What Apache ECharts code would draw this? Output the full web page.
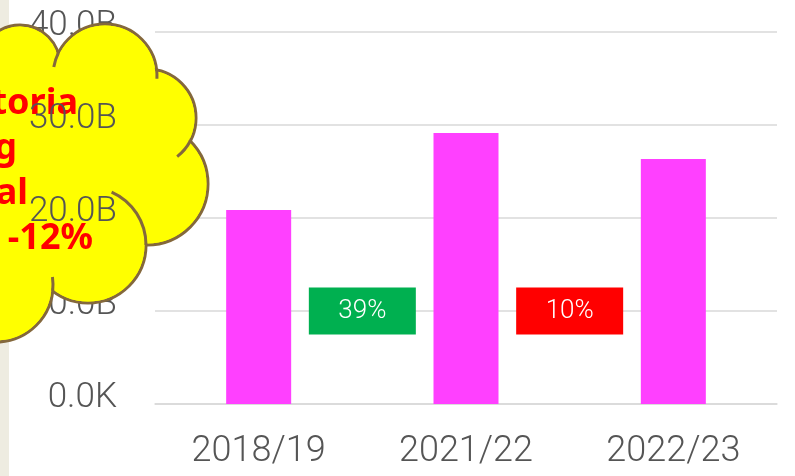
<!DOCTYPE html>
<html>
<head>
<meta charset="utf-8">
<script src="https://cdn.jsdelivr.net/npm/echarts@6/dist/echarts.min.js"></script>
<style>
  html, body { margin: 0; padding: 0; background: #fff; }
  #container { width: 795px; height: 476px; }
</style>
</head>
<body>
<div id="container"></div>
<script>
  // data
  var categories = ['2018/19', '2021/22', '2022/23'];
  var spendValues = [20.86, 29.14, 26.34];          // billions
  var yTickLabels = ['0.0K', '10.0B', '20.0B', '30.0B', '40.0B'];
  var changePct = [39, -10];                         // change between neighbouring years
  var changeLevel = 10;                              // where the change boxes sit (billions)
  var cloudLines = ['Victoria', 'Spending', 'Total', '-12%'];

  var dom = document.getElementById('container');
  var myChart = echarts.init(dom, null, { renderer: 'canvas' });

  var grey = '#555555';
  var lineCol = '#D9D9D9';
  var labelFont = 'Roboto, "Noto Sans", sans-serif';

  // cloud made of bumps (circles), outlined only on the outside
  var bumps = [
    { cx: 20, cy: 65, r: 40 },
    { cx: 105, cy: 76, r: 52 },
    { cx: 147, cy: 118, r: 49 },
    { cx: 147, cy: 184, r: 61 },
    { cx: 88, cy: 245, r: 58 },
    { cx: -4, cy: 285, r: 57 }
  ];
  // little inner strokes where one bump runs into the next (degrees)
  var stubs = [
    { b: 1, a0: 190, a1: 206 },
    { b: 1, a0: -7, a1: 3 },
    { b: 2, a0: 28, a1: 52 },
    { b: 4, a0: -66, a1: 0 },
    { b: 5, a0: -8, a1: 6 }
  ];
  var cloudFill = '#FFFF00';
  var cloudEdge = '#84683C';

  var gfx = [];
  gfx.push({ type: 'rect', z: 1, shape: { x: 0, y: 0, width: 9, height: 476 }, style: { fill: '#EEECE1' } });
  bumps.forEach(function (b) {
    gfx.push({ type: 'circle', z: 3, shape: { cx: b.cx, cy: b.cy, r: b.r }, style: { fill: cloudFill, stroke: cloudEdge, lineWidth: 3 } });
  });
  gfx.push({
    type: 'polygon', z: 4,
    shape: { points: bumps.map(function (b) { return [b.cx, b.cy]; }).concat([[-40, 285], [-40, 65]]) },
    style: { fill: cloudFill }
  });
  bumps.forEach(function (b) {
    gfx.push({ type: 'circle', z: 4, shape: { cx: b.cx, cy: b.cy, r: b.r - 1.5 }, style: { fill: cloudFill } });
  });
  stubs.forEach(function (s) {
    var b = bumps[s.b];
    gfx.push({
      type: 'arc', z: 5,
      shape: { cx: b.cx, cy: b.cy, r: b.r, startAngle: s.a0 * Math.PI / 180, endAngle: s.a1 * Math.PI / 180, clockwise: true },
      style: { fill: null, stroke: cloudEdge, lineWidth: 3 }
    });
  });
  var lineRight = [78, 17, 28, 93];
  cloudLines.forEach(function (t, i) {
    gfx.push({
      type: 'text', z: 6,
      style: {
        text: t, x: lineRight[i], y: 104 + i * 45,
        align: 'right', verticalAlign: 'middle',
        fill: '#FF0000', font: 'bold 36px "Noto Sans", sans-serif'
      }
    });
  });

  function yLabel(v) {
    return yTickLabels[Math.round(v / 10)];
  }

  var yLabelStyle = {
    color: grey, fontSize: 35, fontFamily: labelFont, fontWeight: 300, margin: 38,
    verticalAlign: 'bottom', lineHeight: 12
  };

  var option = {
    animation: false,
    backgroundColor: '#ffffff',
    grid: { left: 155, right: 18, top: 32, bottom: 72, containLabel: false, outerBoundsMode: 'none' },
    xAxis: [
      {
        type: 'category',
        data: categories,
        axisTick: { show: false },
        axisLine: { lineStyle: { color: lineCol, width: 1.5 } },
        axisLabel: { color: grey, fontSize: 36, fontFamily: labelFont, fontWeight: 300, margin: 30 }
      },
      { type: 'value', min: -0.5, max: 2.5, show: false }
    ],
    yAxis: [
      {
        type: 'value', min: 0, max: 40, interval: 10, z: 0,
        axisLine: { show: false },
        axisTick: { show: false },
        splitLine: { lineStyle: { color: lineCol, width: 1.5 } },
        axisLabel: Object.assign({ formatter: yLabel }, yLabelStyle)
      },
      {
        // same scale, drawn above the cloud for the labels that show through it
        type: 'value', min: 0, max: 40, interval: 10, position: 'left', z: 10,
        axisLine: { show: false },
        axisTick: { show: false },
        splitLine: { show: false },
        axisLabel: Object.assign({
          formatter: function (v) { return (v === 20 || v === 30) ? yLabel(v) : ''; }
        }, yLabelStyle)
      }
    ],
    graphic: { elements: gfx },
    series: [
      {
        type: 'bar',
        data: spendValues,
        barWidth: 65,
        itemStyle: { color: '#FF40FF' }
      },
      {
        type: 'scatter',
        xAxisIndex: 1,
        yAxisIndex: 0,
        symbol: 'rect',
        symbolSize: [107, 47],
        data: changePct.map(function (p, i) {
          return {
            value: [i + 0.5, changeLevel],
            itemStyle: { color: p >= 0 ? '#00B050' : '#FF0000', opacity: 1 },
            label: { formatter: Math.abs(p) + '%' }
          };
        }),
        label: {
          show: true, position: 'inside',
          color: '#ffffff', fontSize: 26, fontFamily: labelFont, fontWeight: 300
        }
      }
    ]
  };

  if (option && typeof option === 'object') {
    myChart.setOption(option, true);
  }
</script>
</body>
</html>
